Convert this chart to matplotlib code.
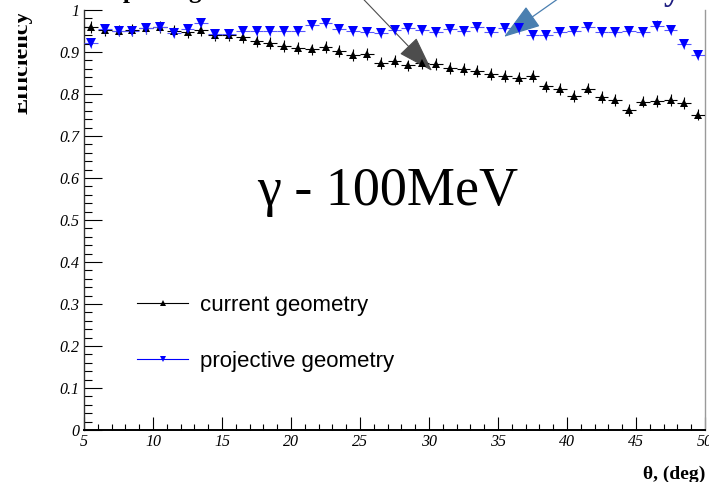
import matplotlib
matplotlib.use("Agg")
import matplotlib.pyplot as plt
from matplotlib.lines import Line2D
from matplotlib.ticker import MultipleLocator, FuncFormatter
from matplotlib.transforms import Bbox
from matplotlib.font_manager import FontProperties

# Bin centres in polar angle (deg)
theta_deg = [5.5, 6.5, 7.5, 8.5, 9.5, 10.5, 11.5, 12.5, 13.5, 14.5,
             15.5, 16.5, 17.5, 18.5, 19.5, 20.5, 21.5, 22.5, 23.5, 24.5,
             25.5, 26.5, 27.5, 28.5, 29.5, 30.5, 31.5, 32.5, 33.5, 34.5,
             35.5, 36.5, 37.5, 38.5, 39.5, 40.5, 41.5, 42.5, 43.5, 44.5,
             45.5, 46.5, 47.5, 48.5, 49.5]

# Photon reconstruction efficiency, current calorimeter geometry
eff_current = [0.959, 0.953, 0.951, 0.952, 0.956, 0.960, 0.950, 0.947, 0.953, 0.940,
               0.941, 0.936, 0.926, 0.921, 0.915, 0.909, 0.906, 0.911, 0.902, 0.893,
               0.895, 0.874, 0.879, 0.868, 0.874, 0.871, 0.861, 0.859, 0.855, 0.847,
               0.843, 0.838, 0.842, 0.818, 0.811, 0.796, 0.813, 0.793, 0.786, 0.761,
               0.782, 0.784, 0.786, 0.778, 0.751]

# Photon reconstruction efficiency, projective geometry
eff_projective = [0.922, 0.954, 0.951, 0.951, 0.956, 0.960, 0.946, 0.954, 0.968, 0.943,
                  0.943, 0.951, 0.951, 0.951, 0.950, 0.950, 0.965, 0.969, 0.954, 0.949,
                  0.948, 0.946, 0.952, 0.956, 0.953, 0.948, 0.955, 0.950, 0.959, 0.947,
                  0.958, 0.956, 0.941, 0.941, 0.947, 0.950, 0.960, 0.948, 0.947, 0.950,
                  0.948, 0.963, 0.952, 0.920, 0.892]

bin_half_width = 0.5
err_current = 0.014
err_projective = 0.012

series_labels = ["current geometry", "projective geometry"]

plt.rcParams["font.family"] = ["Liberation Serif", "DejaVu Serif"]
plt.rcParams["font.style"] = "italic"

serif_bold = FontProperties(family="Liberation Serif", weight="bold", style="normal")

W, H = 709, 482
fig = plt.figure(figsize=(W / 100, H / 100), dpi=100)
fig.patch.set_facecolor("white")

# axes frame in pixels: x 84..705, y 10..430 (from top)
ax = fig.add_axes([84 / W, (H - 430) / H, (705 - 84) / W, 420 / H])
ax.set_xlim(5, 50)
ax.set_ylim(0, 1)

ax.spines["top"].set_visible(False)
ax.spines["right"].set_color("#9a9a9a")
ax.spines["right"].set_linewidth(1.0)
ax.spines["left"].set_color("#333333")
ax.spines["left"].set_linewidth(1.0)
ax.spines["bottom"].set_color("black")
ax.spines["bottom"].set_linewidth(1.4)

ax.xaxis.set_major_locator(MultipleLocator(5))
ax.xaxis.set_minor_locator(MultipleLocator(1))
ax.yaxis.set_major_locator(MultipleLocator(0.1))
ax.yaxis.set_minor_locator(MultipleLocator(0.02))
ax.yaxis.set_major_formatter(FuncFormatter(lambda v, p: f"{v:g}"))
ax.xaxis.set_major_formatter(FuncFormatter(lambda v, p: f"{v:g}"))

ax.tick_params(axis="x", which="major", direction="in", length=9.5, width=0.8,
               labelsize=11.5, pad=3, top=False)
ax.tick_params(axis="x", which="minor", direction="in", length=4.5, width=0.8, top=False)
ax.tick_params(axis="y", which="major", direction="in", length=13, width=0.8,
               labelsize=11.5, pad=3.5, right=False)
ax.tick_params(axis="y", which="minor", direction="in", length=6, width=0.8, right=False)

ax.errorbar(theta_deg, eff_current, xerr=bin_half_width, yerr=err_current,
            fmt="^", color="black", ms=6, elinewidth=0.8, capsize=0,
            markeredgewidth=0, zorder=3)
ax.errorbar(theta_deg, eff_projective, xerr=bin_half_width, yerr=err_projective,
            fmt="v", color="#0000ff", ms=6.5, elinewidth=0.8, capsize=0,
            markeredgewidth=0, ecolor="#5555ff", zorder=3)

# Legend with line + marker entries
handles = [
    Line2D([], [], color="black", lw=0.8, marker="^", ms=4.5, markeredgewidth=0),
    Line2D([], [], color="#0000ff", lw=0.8, marker="v", ms=4.5, markeredgewidth=0),
]
ax.legend(handles, series_labels, loc="center left",
          bbox_to_anchor=((137 - 84) / 621, (430 - 333.5) / 420),
          frameon=False, borderpad=0, borderaxespad=0,
          handlelength=2.3, handletextpad=0.55, labelspacing=1.57,
          prop={"family": "Liberation Sans", "style": "normal", "size": 16})

# Beam/energy annotation
ax.text((388 - 84) / 621, (430 - 205) / 420, "γ - 100MeV", transform=ax.transAxes,
        ha="center", va="baseline", fontsize=39, fontstyle="normal",
        family="Liberation Serif")

# Arrows pointing at the two curves
ax.annotate("", xy=(30.22, 0.855), xytext=(24.6, 1.048),
            arrowprops=dict(arrowstyle="-|>,head_length=2.3,head_width=0.75",
                            mutation_scale=10, color="#4d4d4d", lw=0.8,
                            shrinkA=0, shrinkB=0),
            annotation_clip=False)
ax.annotate("", xy=(35.43, 0.936), xytext=(40.27, 1.048),
            arrowprops=dict(arrowstyle="-|>,head_length=2.35,head_width=0.78",
                            mutation_scale=10, color="#4a7fb0", lw=0.9,
                            shrinkA=0, shrinkB=0),
            annotation_clip=False)

# Headline captions above the frame
fig.text(86 / W, 1 + 1.6 / H, "drop along θ", ha="left", va="baseline",
         fontproperties=serif_bold, fontsize=18, color="black")
fig.text(681 / W, 1.0, "stable efficiency", ha="right", va="baseline",
         fontproperties=serif_bold, fontsize=24.5, color="#1c1c80")

# Axis titles
ax.set_xlabel("θ, (deg)", fontproperties=serif_bold, fontsize=14)
ax.xaxis.set_label_coords(1.0, (430 - 479) / 420)
ax.xaxis.label.set_ha("right")
ax.xaxis.label.set_va("baseline")

ylab = ax.set_ylabel("Efficiency", fontproperties=serif_bold, fontsize=17.5)
ax.yaxis.set_label_coords((28 - 84) / 621, (430 - 62) / 420)
ylab.set_va("baseline")
ylab.set_ha("center")
ylab.set_rotation_mode("anchor")
ylab.set_clip_box(Bbox.from_extents(18, 0, W, H))
ylab.set_clip_on(True)

fig.savefig("out.png", dpi=100, facecolor="white")
